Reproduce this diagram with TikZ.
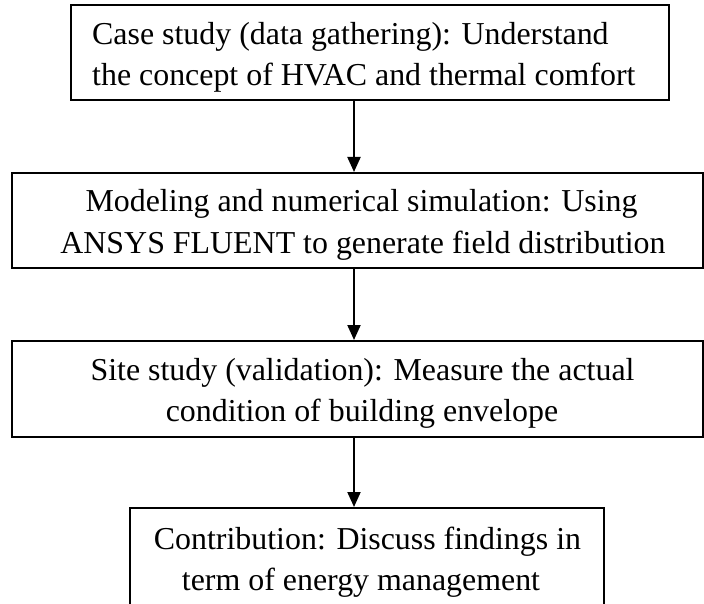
\documentclass[tikz,border=0pt]{standalone}
\usepackage{fontspec}
\setmainfont{Liberation Serif}
\usetikzlibrary{arrows.meta}
\begin{document}
\begin{tikzpicture}[x=1pt,y=-1pt,
  box/.style={draw=black, line width=2pt, rectangle, inner sep=0pt},
  txt/.style={inner sep=0pt, font=\fontsize{31.9}{40}\selectfont},
  flow/.style={draw=black, line width=2pt, -{Triangle[length=15pt,width=13pt]}}]
\useasboundingbox (0,0) rectangle (704,604);
\clip (0,0) rectangle (704,604);
\fill[white] (0,0) rectangle (704,604);
% boxes
\node[box, minimum width=598pt, minimum height=95pt] (b1) at (370,52.5) {};
\node[box, minimum width=691pt, minimum height=95pt] (b2) at (357.5,220.5) {};
\node[box, minimum width=691pt, minimum height=96pt] (b3) at (357.5,389) {};
\node[box, minimum width=474pt, minimum height=97pt] (b4) at (367,556.5) {};
% texts (clipped at the text-box inner margin, as in the original)
\begin{scope}
\clip ([yshift=-9.6pt]b1.north west) rectangle ([yshift=9.6pt]b1.south east);
\node[txt, anchor=base west] (t1a) at (92,45) {Case study (data gathering): Understand};
\node[txt, anchor=base west] (t1b) at (92,86) {the concept of HVAC and thermal comfort};
\end{scope}
\begin{scope}
\clip ([yshift=-9.6pt]b2.north west) rectangle ([yshift=9.6pt]b2.south east);
\node[txt, anchor=base] (t2a) at (361.5,212) {Modeling and numerical simulation: Using};
\node[txt, anchor=base] (t2b) at (363,253) {ANSYS FLUENT to generate field distribution};
\end{scope}
\begin{scope}
\clip ([yshift=-9.6pt]b3.north west) rectangle ([yshift=9.6pt]b3.south east);
\node[txt, anchor=base] (t3a) at (362.5,380) {Site study (validation): Measure the actual};
\node[txt, anchor=base] (t3b) at (362,421) {condition of building envelope};
\end{scope}
\begin{scope}
\clip ([yshift=-9.6pt]b4.north west) rectangle ([yshift=9.6pt]b4.south east);
\node[txt, anchor=base] (t4a) at (367.5,549) {Contribution: Discuss findings in};
\node[txt, anchor=base] (t4b) at (361,590) {term of energy management};
\end{scope}
% connectors
\coordinate (ax) at (354,0);
\draw[flow] (b1.south -| ax) -- (b2.north -| ax);
\draw[flow] (b2.south -| ax) -- (b3.north -| ax);
\draw[flow] (b3.south -| ax) -- (b4.north -| ax);
\end{tikzpicture}
\end{document}
